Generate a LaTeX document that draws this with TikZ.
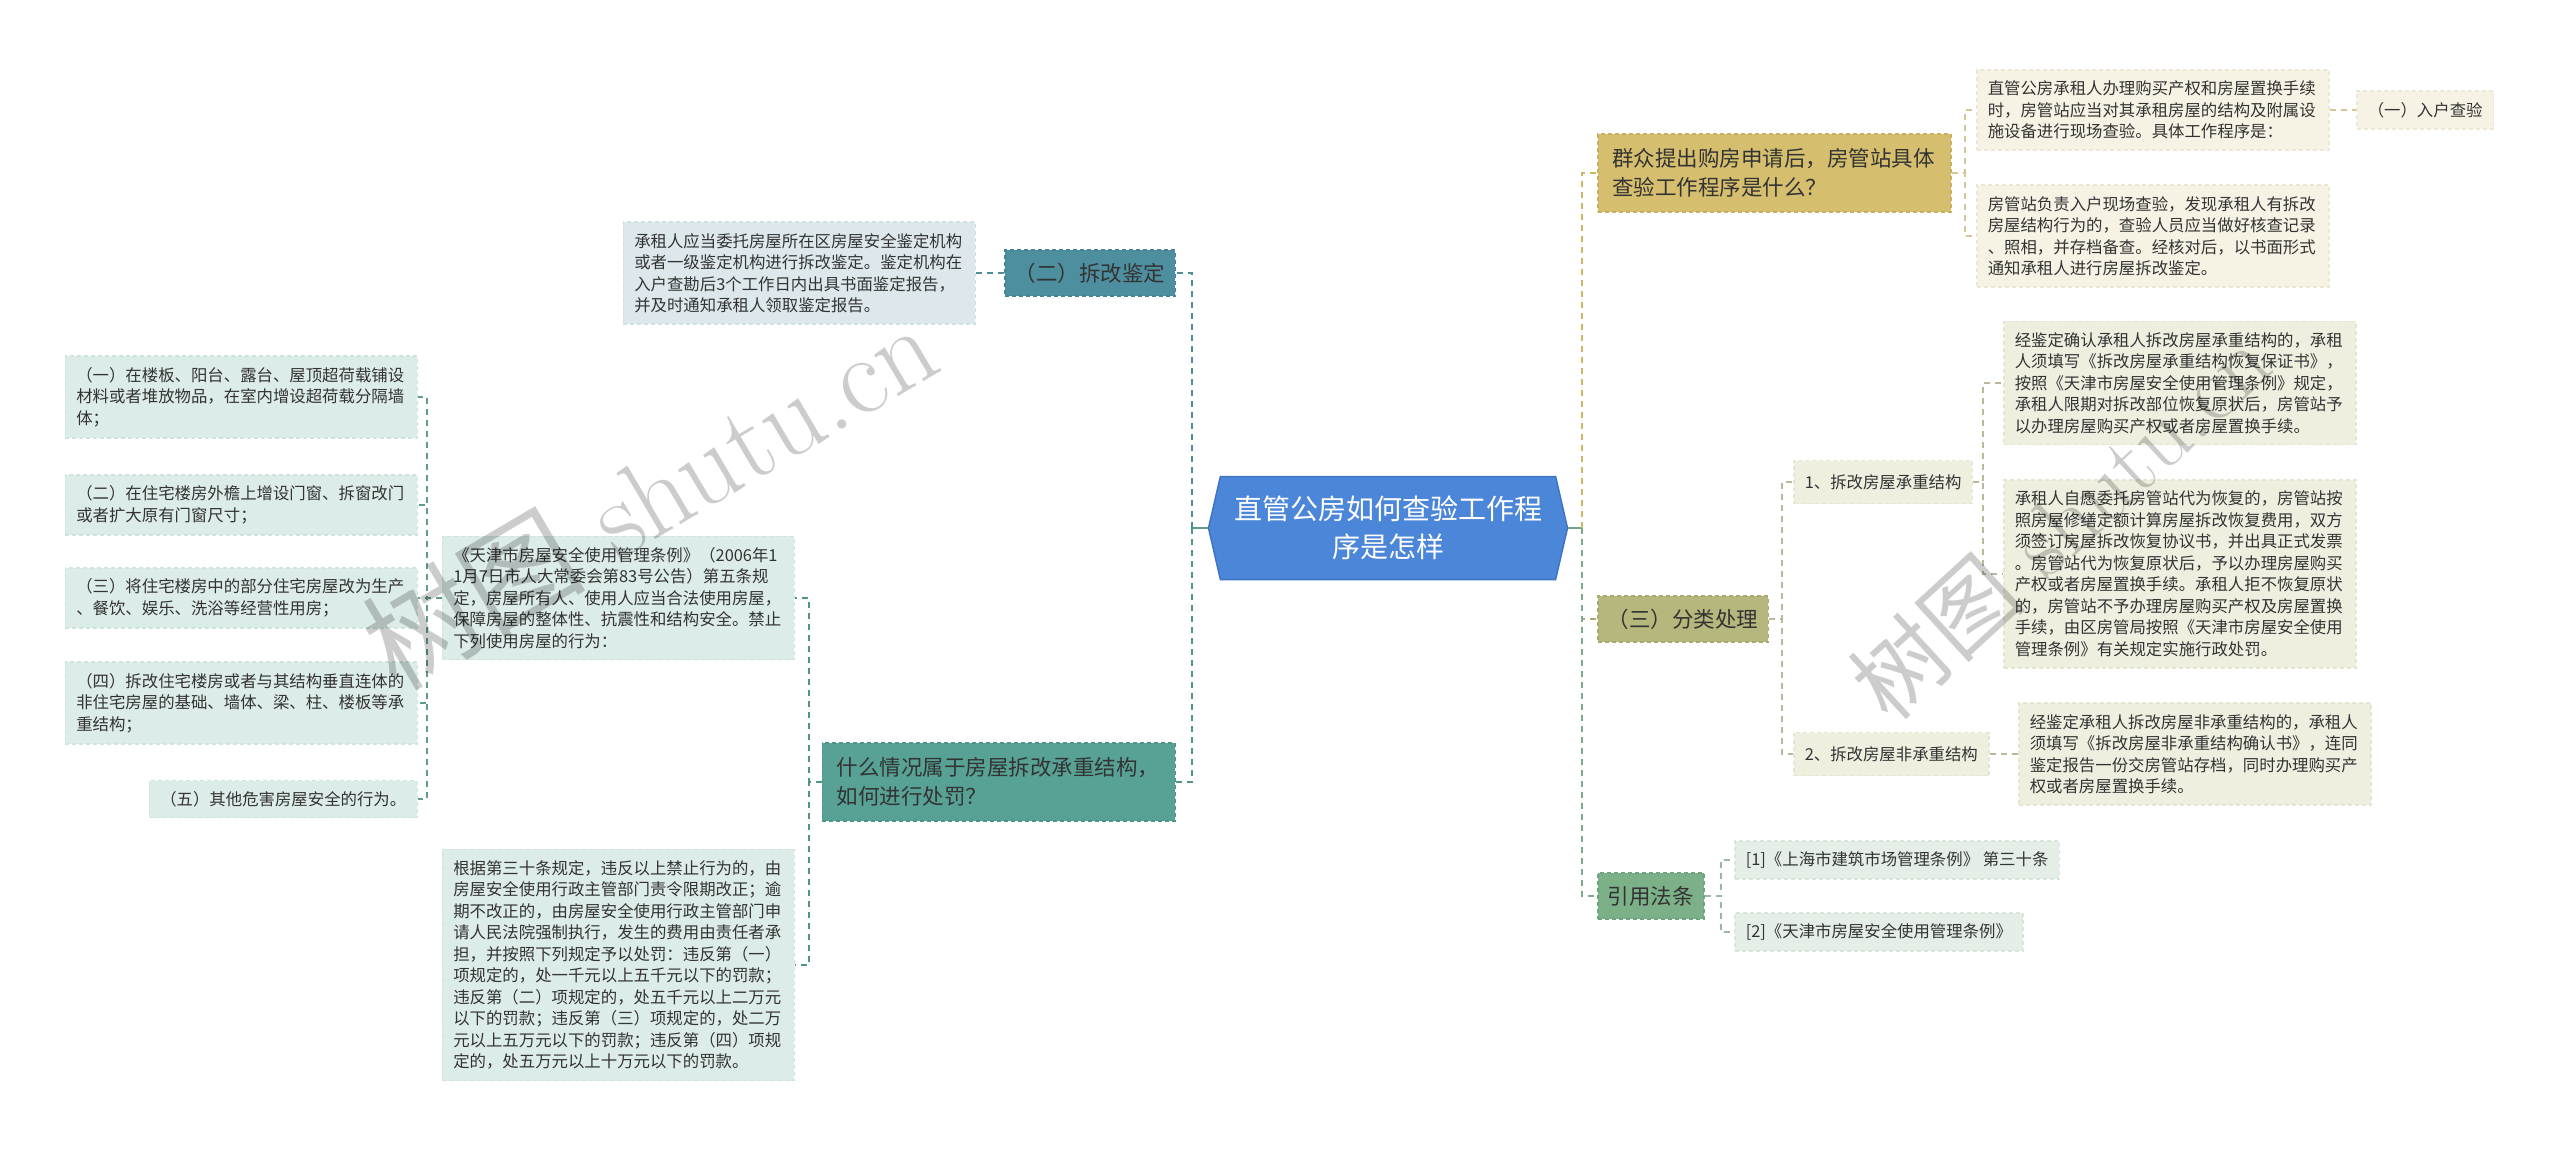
\documentclass[tikz,border=0pt]{standalone}
\usepackage{fontspec}
\usepackage{tikz}
\usetikzlibrary{shapes.symbols}
\newfontfamily\cjk{Noto Sans CJK SC}

\definecolor{hexblue}{HTML}{4C86D9}
\definecolor{hexline}{HTML}{3F75C2}
\definecolor{inkgrey}{HTML}{333333}
\definecolor{goldfill}{HTML}{D5BF6E}
\definecolor{goldline}{HTML}{C8B062}
\definecolor{goldlink}{HTML}{CDB765}
\definecolor{creamfill}{HTML}{F6F3E4}
\definecolor{creamline}{HTML}{EDE8D3}
\definecolor{creamlink}{HTML}{D3C799}
\definecolor{olivefill}{HTML}{B5B77C}
\definecolor{oliveline}{HTML}{A8AA70}
\definecolor{olivelink}{HTML}{A9AB72}
\definecolor{palefill}{HTML}{EFEFE0}
\definecolor{paleline}{HTML}{E5E5D2}
\definecolor{palelink}{HTML}{B9B99A}
\definecolor{sagefill}{HTML}{7BB088}
\definecolor{sageline}{HTML}{6FA37D}
\definecolor{sagelink}{HTML}{7BAA88}
\definecolor{mintfill}{HTML}{E4EEE7}
\definecolor{mintline}{HTML}{D9E6DC}
\definecolor{mintlink}{HTML}{9CB8A3}
\definecolor{steelfill}{HTML}{4E8F9F}
\definecolor{steelline}{HTML}{448494}
\definecolor{steellink}{HTML}{4E8E96}
\definecolor{icefill}{HTML}{DCE8EB}
\definecolor{iceline}{HTML}{D0E0E4}
\definecolor{tealfill}{HTML}{57A294}
\definecolor{tealline}{HTML}{4C9588}
\definecolor{teallink}{HTML}{4F968A}
\definecolor{seafill}{HTML}{DCECE9}
\definecolor{sealine}{HTML}{CFE3DF}
\definecolor{sealink}{HTML}{5E9C8E}
\definecolor{hubright}{HTML}{6FA58A}
\definecolor{hubleft}{HTML}{5A9C8E}

\begin{document}
\begin{tikzpicture}[x=1pt, y=-1pt,
    link/.style={draw=#1, line width=2pt, dash pattern=on 6pt off 5pt},
    stub/.style={draw=#1, line width=2.5pt},
    hexnode/.style={shape=signal, signal to=west and east, signal pointer angle=154,
        fill=hexblue, draw=hexline, line width=1.5pt, text=white, align=center,
        font=\cjk\fontsize{28}{38}\selectfont, minimum width=359pt, minimum height=103pt, inner sep=0pt},
    branch/.style={text=inkgrey, line width=1.5pt, dash pattern=on 4pt off 3pt,
        font=\cjk\fontsize{21.5}{29}\selectfont, inner xsep=10pt, minimum height=46pt},
    bigbranch/.style={branch, align=left, text width=324pt, inner xsep=14.5pt, minimum height=78pt},
    leaf/.style={text=inkgrey, line width=1.5pt, dash pattern=on 4pt off 3pt,
        font=\cjk\fontsize{16.4}{21.5}\selectfont, align=left, inner xsep=11pt, inner ysep=11pt},
    leafbox/.style={leaf, text width=330pt},
    leaftag/.style={leaf, inner ysep=0pt, minimum height=#1},
    stamp/.style={text=black, text opacity=0.2, font=\fontsize{112}{112}\selectfont, rotate=30.5}]

                \fill[white] (0,0) rectangle (2560,1152);
                \useasboundingbox (0,0) rectangle (2560,1152);

                \node[hexnode] (hub) at (1388,528) {直管公房如何查验工作程\\序是怎样};

                \node[bigbranch, fill=goldfill, draw=goldline, anchor=west] (ask) at (1597,173) {群众提出购房申请后，房管站具体\\查验工作程序是什么？};
                \node[branch, fill=olivefill, draw=oliveline, anchor=west] (sort) at (1597,619) {（三）分类处理};
                \node[branch, fill=sagefill, draw=sageline, anchor=west] (law) at (1597,896) {引用法条};

                \node[leafbox, fill=creamfill, draw=creamline, anchor=west] (visit) at (1976,110) {直管公房承租人办理购买产权和房屋置换手续\\时，房管站应当对其承租房屋的结构及附属设\\施设备进行现场查验。具体工作程序是：};
                \node[leafbox, fill=creamfill, draw=creamline, anchor=west] (check) at (1976,236) {房管站负责入户现场查验，发现承租人有拆改\\房屋结构行为的，查验人员应当做好核查记录\\、照相，并存档备查。经核对后，以书面形式\\通知承租人进行房屋拆改鉴定。};
                \node[leaftag=38pt, fill=creamfill, draw=creamline, anchor=west] (step1) at (2356,110) {（一）入户查验};

                \node[leaftag=43pt, fill=palefill, draw=paleline, anchor=west] (bearing) at (1793,482) {1、拆改房屋承重结构};
                \node[leaftag=43pt, fill=palefill, draw=paleline, anchor=west] (nonbear) at (1793,754) {2、拆改房屋非承重结构};
                \node[leafbox, fill=palefill, draw=paleline, anchor=west] (restore) at (2003,383) {经鉴定确认承租人拆改房屋承重结构的，承租\\人须填写《拆改房屋承重结构恢复保证书》，\\按照《天津市房屋安全使用管理条例》规定，\\承租人限期对拆改部位恢复原状后，房管站予\\以办理房屋购买产权或者房屋置换手续。};
                \node[leafbox, fill=palefill, draw=paleline, anchor=west] (proxy) at (2003,574) {承租人自愿委托房管站代为恢复的，房管站按\\照房屋修缮定额计算房屋拆改恢复费用，双方\\须签订房屋拆改恢复协议书，并出具正式发票\\。房管站代为恢复原状后，予以办理房屋购买\\产权或者房屋置换手续。承租人拒不恢复原状\\的，房管站不予办理房屋购买产权及房屋置换\\手续，由区房管局按照《天津市房屋安全使用\\管理条例》有关规定实施行政处罚。};
                \node[leafbox, fill=palefill, draw=paleline, anchor=west] (confirm) at (2018,754) {经鉴定承租人拆改房屋非承重结构的，承租人\\须填写《拆改房屋非承重结构确认书》，连同\\鉴定报告一份交房管站存档，同时办理购买产\\权或者房屋置换手续。};

                \node[leaftag=38pt, fill=mintfill, draw=mintline, anchor=west] (law1) at (1734,860) {[1]《上海市建筑市场管理条例》 第三十条};
                \node[leaftag=38pt, fill=mintfill, draw=mintline, anchor=west] (law2) at (1734,932) {[2]《天津市房屋安全使用管理条例》};

                \node[branch, fill=steelfill, draw=steelline, anchor=east] (appraise) at (1176,273) {（二）拆改鉴定};
                \node[leafbox, fill=icefill, draw=iceline, anchor=east] (agency) at (976,273) {承租人应当委托房屋所在区房屋安全鉴定机构\\或者一级鉴定机构进行拆改鉴定。鉴定机构在\\入户查勘后3个工作日内出具书面鉴定报告，\\并及时通知承租人领取鉴定报告。};

                \node[bigbranch, fill=tealfill, draw=tealline, anchor=east] (penalty) at (1176,782) {什么情况属于房屋拆改承重结构，\\如何进行处罚？};
                \node[leafbox, fill=seafill, draw=sealine, anchor=east] (rule) at (795,598) {《天津市房屋安全使用管理条例》（2006年1\\1月7日市人大常委会第83号公告）第五条规\\定，房屋所有人、使用人应当合法使用房屋，\\保障房屋的整体性、抗震性和结构安全。禁止\\下列使用房屋的行为：};
                \node[leafbox, fill=seafill, draw=sealine, anchor=east] (fine) at (795,965) {根据第三十条规定，违反以上禁止行为的，由\\房屋安全使用行政主管部门责令限期改正；逾\\期不改正的，由房屋安全使用行政主管部门申\\请人民法院强制执行，发生的费用由责任者承\\担，并按照下列规定予以处罚：违反第（一）\\项规定的，处一千元以上五千元以下的罚款；\\违反第（二）项规定的，处五千元以上二万元\\以下的罚款；违反第（三）项规定的，处二万\\元以上五万元以下的罚款；违反第（四）项规\\定的，处五万元以上十万元以下的罚款。};

                \node[leafbox, fill=seafill, draw=sealine, anchor=east] (act1) at (418,397) {（一）在楼板、阳台、露台、屋顶超荷载铺设\\材料或者堆放物品，在室内增设超荷载分隔墙\\体；};
                \node[leafbox, fill=seafill, draw=sealine, anchor=east] (act2) at (418,505) {（二）在住宅楼房外檐上增设门窗、拆窗改门\\或者扩大原有门窗尺寸；};
                \node[leafbox, fill=seafill, draw=sealine, anchor=east] (act3) at (418,598) {（三）将住宅楼房中的部分住宅房屋改为生产\\、餐饮、娱乐、洗浴等经营性用房；};
                \node[leafbox, fill=seafill, draw=sealine, anchor=east] (act4) at (418,703) {（四）拆改住宅楼房或者与其结构垂直连体的\\非住宅房屋的基础、墙体、梁、柱、楼板等承\\重结构；};
                \node[leaftag=37pt, fill=seafill, draw=sealine, anchor=east] (act5) at (418,799) {（五）其他危害房屋安全的行为。};

                \draw[stub=hubright] (hub.east) -- ++(14,0) coordinate (rj);
                \draw[link=goldlink] (rj) |- (ask.west);
                \draw[link=olivelink] (rj) |- (sort.west);
                \draw[link=sagelink] (rj) |- (law.west);
                \draw[stub=hubleft] (hub.west) -- ++(-16,0) coordinate (lj);
                \draw[link=steellink] (lj) |- (appraise.east);
                \draw[link=teallink] (lj) |- (penalty.east);

                \draw[link=creamlink] (ask.east) -- ++(13,0) |- (visit.west);
                \draw[link=creamlink] (ask.east) -- ++(13,0) |- (check.west);
                \draw[link=creamlink] (visit.east) -- (step1.west);

                \draw[link=palelink] (sort.east) -- ++(13,0) |- (bearing.west);
                \draw[link=palelink] (sort.east) -- ++(13,0) |- (nonbear.west);
                \draw[link=palelink] (bearing.east) -- ++(10,0) |- (restore.west);
                \draw[link=palelink] (bearing.east) -- ++(10,0) |- (proxy.west);
                \draw[link=palelink] (nonbear.east) -- (confirm.west);

                \draw[link=mintlink] (law.east) -- ++(16,0) |- (law1.west);
                \draw[link=mintlink] (law.east) -- ++(16,0) |- (law2.west);

                \draw[link=steellink] (appraise.west) -- (agency.east);
                \draw[link=teallink] (penalty.west) -- ++(-13,0) |- (rule.east);
                \draw[link=teallink] (penalty.west) -- ++(-13,0) |- (fine.east);
                \foreach \n in {1,...,5}
                    \draw[link=sealink] (rule.west) -- ++(-15,0) |- (act\n.east);

                \node[stamp] (wmleft) at (649,494) {{\cjk 树图} shutu.cn};
                \node[stamp, rotate=12, font=\fontsize{92}{92}\selectfont] (wmright) at (2060,522) {{\cjk 树图} shutu.cn};

\end{tikzpicture}
\end{document}
